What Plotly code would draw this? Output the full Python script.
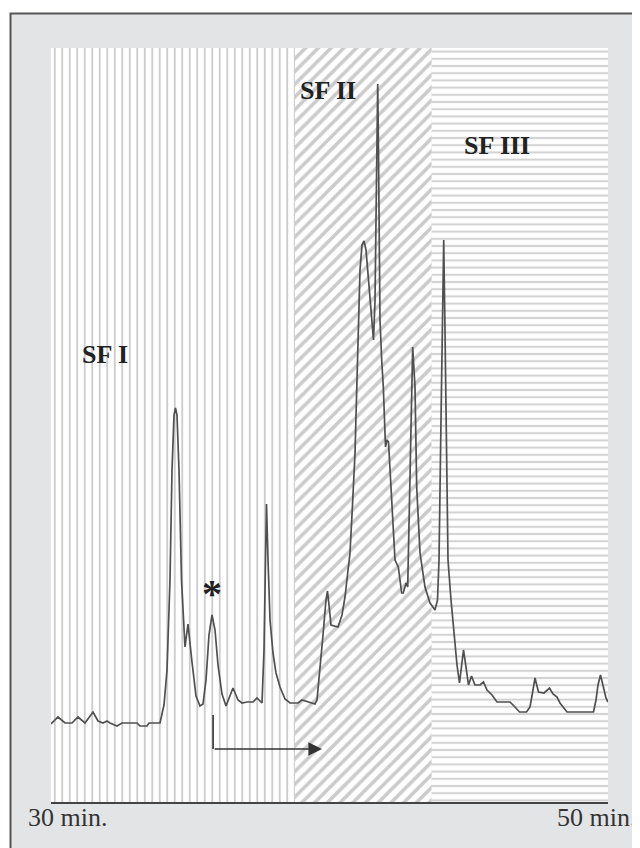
import plotly.graph_objects as go

# ---- chromatogram trace (time in min, detector signal in arbitrary units) ----
time_min = [
    30.000, 30.251, 30.503, 30.754, 30.969, 31.221, 31.508, 31.688, 31.867, 32.011,
    32.118, 32.370, 32.549, 33.088, 33.196, 33.447, 33.519, 33.914,
    34.057, 34.165, 34.273, 34.345, 34.417, 34.470, 34.524, 34.596, 34.686, 34.811,
    34.919, 34.991, 35.063, 35.206, 35.350, 35.458,
    35.566, 35.673, 35.781, 35.889, 35.996, 36.140, 36.284,
    36.535, 36.715, 36.858, 37.038, 37.253, 37.397, 37.576,
    37.648, 37.702, 37.738, 37.792, 37.864, 37.971, 38.079, 38.223, 38.402, 38.582,
    38.869, 39.013, 39.228, 39.479, 39.551, 39.659, 39.767, 39.874, 39.928, 39.982,
    40.054, 40.305, 40.449,
    40.557, 40.646, 40.736, 40.826, 40.916, 40.987, 41.041, 41.095, 41.167, 41.239,
    41.311, 41.382, 41.454, 41.526, 41.580, 41.634, 41.670, 41.706, 41.731, 41.759,
    41.788, 41.813, 41.874, 41.932, 42.011, 42.065, 42.119, 42.172, 42.233, 42.352,
    42.470, 42.531, 42.592, 42.650, 42.747, 42.808, 42.855, 42.916, 42.987, 43.070,
    43.131, 43.250, 43.429, 43.609, 43.788, 43.878, 43.932, 44.004, 44.057, 44.101,
    44.147, 44.201, 44.255,
    44.363, 44.452, 44.578, 44.668, 44.722, 44.811, 44.865, 44.937, 44.991, 45.099,
    45.224, 45.404, 45.530, 45.655, 45.835, 46.014, 46.481, 46.661, 46.822, 47.074,
    47.199, 47.307, 47.379, 47.504, 47.702, 47.899, 48.025, 48.169, 48.277, 48.528,
    49.479, 49.569, 49.641, 49.731, 49.820, 49.928, 50.000,
]
signal = [
    7.8, 8.5, 7.9, 7.9, 8.5, 7.9, 9.0, 8.1, 7.9, 8.1,
    7.9, 7.6, 7.9, 7.9, 7.6, 7.6, 7.9, 7.9,
    9.7, 13.2, 22.2, 33.2, 38.7, 39.4, 38.7, 33.2, 22.2, 15.5,
    17.8, 15.7, 14.0, 10.6, 9.6, 9.8,
    12.2, 16.7, 18.7, 17.2, 13.7, 10.8, 9.6,
    11.4, 10.2, 9.9, 10.0, 10.0, 10.4, 9.9,
    15.2, 24.2, 29.8, 24.2, 18.2, 14.9, 12.9, 11.5, 10.3, 9.9,
    9.9, 10.2, 10.0, 9.8, 10.2, 13.9, 16.7, 20.2, 21.1, 19.7,
    17.7, 17.5, 18.7,
    20.5, 22.7, 24.9, 29.7, 34.9, 42.2, 48.2, 53.2, 55.7, 56.1,
    55.2, 52.7, 50.2, 47.2, 46.2, 50.2, 60.2, 68.2, 71.8, 65.2,
    55.2, 48.2, 44.2, 41.5, 35.5, 36.2, 36.0, 33.2, 29.9, 24.2,
    23.5, 22.2, 20.9, 20.9, 21.9, 21.5, 28.2, 38.2, 45.5, 41.5,
    31.5, 24.9, 21.5, 19.9, 19.2, 20.2, 24.2, 38.2, 50.2, 56.2,
    47.2, 37.2, 24.2,
    20.2, 17.2, 13.7, 11.9, 13.2, 15.2, 14.2, 12.4, 11.7, 12.6,
    11.7, 11.7, 12.0, 11.2, 10.7, 10.0, 10.0, 9.5, 9.0, 9.0,
    9.5, 11.2, 12.4, 11.0, 10.9, 11.4, 10.8, 10.5, 9.9, 9.0,
    9.0, 10.2, 11.7, 12.7, 11.5, 10.4, 10.0,
]

# ---- sub-fractions ----
fraction_names = ["SF I", "SF II", "SF III"]
fraction_bounds = [30.0, 38.76, 43.67, 50.0]
fraction_patterns = ["|", "/", "-"]
label_time = [31.94, 39.93, 46.03]
label_signal = [44.8, 71.2, 65.65]

asterisk_time = 35.78
asterisk_signal = 20.9
arrow_start = [35.82, 8.7]
arrow_corner = [35.82, 5.3]
arrow_end = [39.73, 5.3]

tick_values = [30, 50]
tick_labels = ["30 min.", "50 min."]
tick_label_shift = [16.5, -11.5]

Y_RANGE = [0, 75.4]

SERIF = "Liberation Serif, Times New Roman, serif"

fig = go.Figure()

mids = [(a + b) / 2 for a, b in zip(fraction_bounds[:-1], fraction_bounds[1:])]
widths = [b - a for a, b in zip(fraction_bounds[:-1], fraction_bounds[1:])]

fig.add_trace(go.Bar(
    x=mids, y=[Y_RANGE[1]] * len(mids), width=widths, base=0,
    marker=dict(
        color="white",
        line=dict(width=0),
        pattern=dict(
            shape=fraction_patterns,
            size=[7.5, 9, 7.2],
            solidity=[0.24, 0.4, 0.28],
            fgcolor=["#cbcbcb", "#cbcbcb", "#d2d2d2"],
            bgcolor="white",
            fillmode="replace",
        ),
    ),
    hoverinfo="skip", showlegend=False,
))

fig.add_trace(go.Scatter(
    x=time_min, y=signal, mode="lines",
    line=dict(color="#505050", width=1.7),
    hoverinfo="skip", showlegend=False,
))

annotations = []
for name, t, s in zip(fraction_names, label_time, label_signal):
    annotations.append(dict(
        x=t, y=s, xref="x", yref="y", text="<b>%s</b>" % name, showarrow=False,
        font=dict(family=SERIF, size=26, color="#222222"),
        xanchor="center", yanchor="middle",
    ))

annotations.append(dict(
    x=asterisk_time, y=asterisk_signal, xref="x", yref="y", text="<b>*</b>",
    showarrow=False, font=dict(family=SERIF, size=40, color="#222222"),
    xanchor="center", yanchor="middle",
))

annotations.append(dict(
    x=arrow_end[0], y=arrow_end[1], ax=arrow_corner[0], ay=arrow_corner[1],
    xref="x", yref="y", axref="x", ayref="y", text="", showarrow=True,
    arrowhead=2, arrowsize=1.7, arrowwidth=1.6, arrowcolor="#333333",
))

for v, lab, sh in zip(tick_values, tick_labels, tick_label_shift):
    annotations.append(dict(
        x=v, y=-0.0199, xref="x", yref="paper", text=lab, showarrow=False,
        font=dict(family=SERIF, size=26, color="#333333"),
        xanchor="center", yanchor="middle", xshift=sh,
    ))

shapes = [
    dict(type="rect", xref="paper", yref="paper", x0=-0.0727, x1=1.2,
         y0=-0.2, y1=1.0458, fillcolor="#e3e4e6",
         line=dict(color="#555555", width=2), layer="below"),
    dict(type="line", xref="x", yref="y", x0=arrow_start[0], x1=arrow_corner[0],
         y0=arrow_start[1], y1=arrow_corner[1],
         line=dict(color="#333333", width=1.6)),
]

# the page body has an 8px margin, so the figure is 8px smaller and margins shifted
fig.update_layout(
    width=632, height=840,
    margin=dict(l=43, r=32, t=40, b=46),
    paper_bgcolor="white",
    plot_bgcolor="rgba(0,0,0,0)",
    barmode="overlay",
    showlegend=False,
    annotations=annotations,
    shapes=shapes,
    xaxis=dict(
        range=[30, 50], showgrid=False, zeroline=False,
        showline=True, linecolor="#444444", linewidth=2,
        ticks="inside", tickvals=tick_values, ticklen=17, tickwidth=2,
        tickcolor="#444444", showticklabels=False, fixedrange=True,
    ),
    yaxis=dict(range=Y_RANGE, visible=False, fixedrange=True),
)

fig.write_html("out.html")
